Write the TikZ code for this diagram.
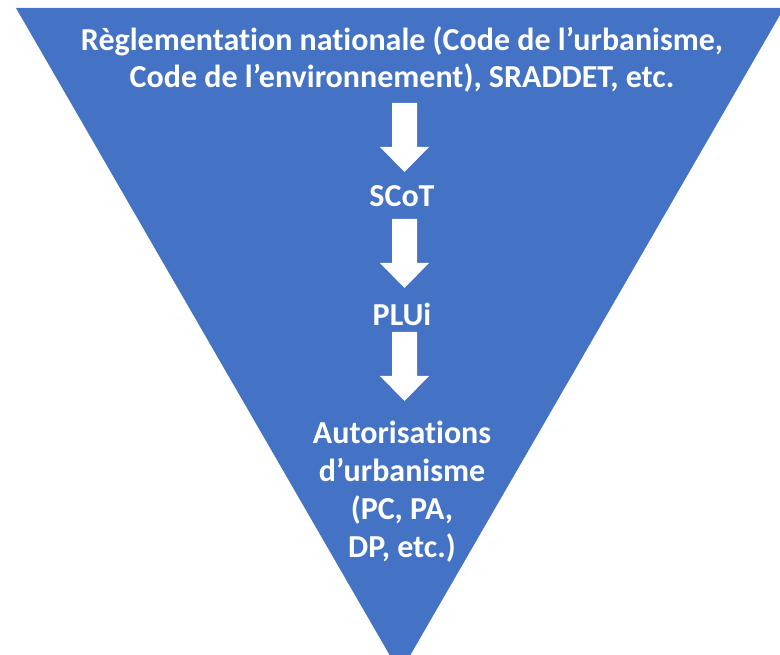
\documentclass[tikz,border=0pt]{standalone}
\usepackage{fontspec}
\setmainfont[Ligatures=NoCommon]{Carlito}
\usepackage{tikz}
\usetikzlibrary{calc}
\usetikzlibrary{positioning}
\definecolor{bleu}{HTML}{4472C4}

\begin{document}
\begin{tikzpicture}[
      x=1pt, y=-1pt,
      titre/.style ={text=white, font=\fontsize{32}{38}\selectfont\bfseries, align=center, anchor=base, inner sep=0pt},
      fleche/.style ={fill=white, draw=none}
    ]
    \useasboundingbox (0,0) rectangle (780,655);
    \clip (0,0) rectangle (780,655);
    % le triangle
    \coordinate (hg) at (16,8) ;
    \coordinate (hd) at (784,8) ;
    \coordinate (pointe) at (400,673) ;
    \fill [bleu] (hg) -- (hd) -- (pointe) -- cycle ;
    % les textes
    \node [titre] (regl1) at (402,51) {Règlementation nationale (Code de l’urbanisme,} ;
    \node [titre] (regl2) at (402,88) {Code de l’environnement), SRADDET, etc.} ;
    \node [titre] (scot) at (402,207) {SCoT} ;
    \node [titre] (plui) at (402,326) {PLUi} ;
    \node [titre] (auto1) at (402,443) {Autorisations} ;
    \node [titre] (auto2) at (402,481) {d’urbanisme} ;
    \node [titre] (auto3) at (402,519) {(PC, PA,} ;
    \node [titre] (auto4) at (402,557) {DP, etc.)} ;
    % les fleches
    \foreach \haut in {103, 219, 332} {
      \fill [fleche] (392,\haut) -- (417,\haut) -- (417,\haut+44) -- (429,\haut+44)
        -- (404.5,\haut+69) -- (380,\haut+44) -- (392,\haut+44) -- cycle ;
    }
  \end{tikzpicture}
\end{document}
